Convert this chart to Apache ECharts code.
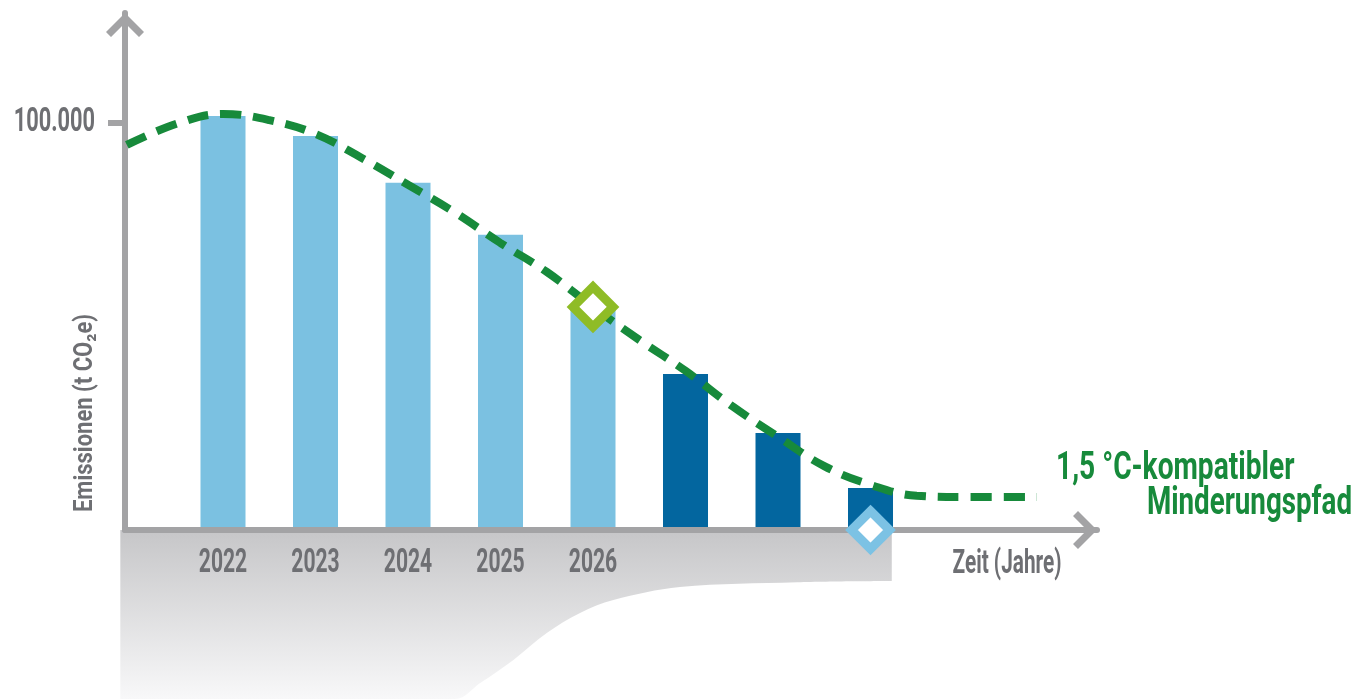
<!DOCTYPE html>
<html><head><meta charset="utf-8">
<script src="https://cdn.jsdelivr.net/npm/echarts@6/dist/echarts.min.js"></script>
<style>html,body{margin:0;padding:0;background:#fff}#c{width:1357px;height:699px}</style>
</head><body><div id="c"></div>
<script>
// ---- data ----
const years = [2022, 2023, 2024, 2025, 2026];
const plannedYears = [2027, 2028, 2029];
const actualEmissions = [101700, 96800, 85300, 72500, 54800];
const plannedEmissions = [38300, 23800, 10300];
const pathYears = [2020.96, 2021.5, 2022, 2022.5, 2023, 2023.5, 2024, 2024.5, 2025, 2025.5, 2026, 2026.5, 2027, 2027.5, 2028, 2028.5, 2029, 2029.5, 2030, 2030.8];
const pathValues = [94600, 99800, 102200, 100700, 97300, 91400, 84800, 78100, 70500, 63400, 54800, 46700, 39100, 30500, 22900, 15700, 11100, 8400, 8100, 8100];
const yTicks = [100000];
const currentMarker = [2026, 54800];
const targetMarker = [2029, 0];
const shadowYears = [2020.89, 2024.51, 2024.78, 2025.14, 2025.5, 2025.86, 2026.22, 2026.94, 2028.21, 2029.23];
const shadowValues = [-41500, -41500, -37600, -31900, -25300, -20400, -17200, -14000, -12800, -12500];

// ---- styling ----
const GRAY = '#a3a3a5';
const TEXT = '#6e6f73';
const GREEN = '#178a3b';
const FONT = "Roboto, 'Noto Sans', sans-serif";
const ARROW = 'path://M19 0L38 19L33 24L19 10L5 24L0 19Z';
const X_MIN = 2020.9405, X_MAX = 2031.4486;

const zip = (a, b) => a.map((v, i) => [v, b[i]]);
const deFmt = v => String(v).replace(/\B(?=(\d{3})+(?!\d))/g, '.');

const chart = echarts.init(document.getElementById('c'), null, {renderer: 'canvas'});
chart.setOption({
  animation: false,
  backgroundColor: '#fff',
  grid: [
    {left: 125, right: 260, top: 13, bottom: 169, outerBoundsMode: 'none', containLabel: false},
    {left: 120, right: 260, top: 530, bottom: 0, outerBoundsMode: 'none', containLabel: false}
  ],
  xAxis: [{
    type: 'value', gridIndex: 0, min: X_MIN, max: X_MAX, z: 3,
    axisLine: {onZero: false, lineStyle: {color: GRAY, width: 6},
      symbol: ['none', ARROW], symbolSize: [38, 24], symbolOffset: [0, -12]},
    axisTick: {show: false},
    splitLine: {show: false},
    axisLabel: {show: false}
  }, {
    type: 'value', gridIndex: 1, min: 2020.8865, max: X_MAX, show: false
  }],
  yAxis: [{
    type: 'value', gridIndex: 0, min: 0, max: 127000, z: 3,
    axisLine: {show: true, lineStyle: {color: GRAY, width: 6},
      symbol: ['none', ARROW], symbolSize: [38, 24], symbolOffset: [0, -12]},
    axisTick: {show: true, customValues: yTicks, length: 17, lineStyle: {color: GRAY, width: 6}},
    splitLine: {show: false},
    axisLabel: {show: false}
  }, {
    type: 'value', gridIndex: 1, min: -41500, max: 0, show: false
  }],
  series: [{
    type: 'line', xAxisIndex: 1, yAxisIndex: 1, z: 1, silent: true,
    data: zip(shadowYears, shadowValues), smooth: 0.35, symbol: 'none',
    lineStyle: {width: 0},
    areaStyle: {origin: 'end', opacity: 1,
      color: new echarts.graphic.LinearGradient(0, 0, 0, 1, [
        {offset: 0, color: '#c6c6c8'}, {offset: 1, color: '#f8f8f9'}])}
  }, {
    type: 'bar', name: 'Ist', data: zip(years, actualEmissions), barWidth: 45, z: 2,
    itemStyle: {color: '#7bc1e1'}
  }, {
    type: 'bar', name: 'Plan', data: zip(plannedYears, plannedEmissions), barWidth: 45, barGap: '-100%', z: 2,
    itemStyle: {color: '#03669f'}
  }, {
    type: 'line', name: '1,5 °C-Pfad', data: zip(pathYears, pathValues), smooth: 0.4, symbol: 'none', z: 4,
    lineStyle: {color: GREEN, width: 8, type: [21, 12], cap: 'butt'}
  }, {
    type: 'scatter', z: 5, symbol: 'diamond', silent: true,
    data: [
      {value: currentMarker, symbolSize: 40, itemStyle: {color: '#fff', opacity: 1, borderColor: '#8fbc26', borderWidth: 9}},
      {value: targetMarker, symbolSize: 38, itemStyle: {color: '#fff', opacity: 1, borderColor: '#7cc2e4', borderWidth: 9}}
    ]
  }, {
    // year labels under the x axis (condensed via scaleX)
    type: 'custom', z: 6, clip: false, silent: true,
    data: years.map(y => [y]),
    encode: {x: 0},
    renderItem: (params, api) => {
      const p = api.coord([api.value(0), 0]);
      return {type: 'text', x: p[0], y: p[1] + 34, scaleX: 0.64,
        style: {text: String(api.value(0)), fill: TEXT, font: 'bold 33px ' + FONT, align: 'center', verticalAlign: 'middle'}};
    }
  }, {
    // y tick label
    type: 'custom', z: 6, clip: false, silent: true,
    data: yTicks.map(v => [X_MIN, v]),
    encode: {x: 0, y: 1},
    renderItem: (params, api) => {
      const p = api.coord([api.value(0), api.value(1)]);
      return {type: 'text', x: p[0] - 30, y: p[1], scaleX: 0.66,
        style: {text: deFmt(api.value(1)), fill: TEXT, font: 'bold 33px ' + FONT, align: 'right', verticalAlign: 'middle'}};
    }
  }],
  graphic: [
    {type: 'text', x: 86, y: 413, rotation: Math.PI / 2, scaleX: 0.88,
      style: {text: 'Emissionen (t CO₂e)', fill: TEXT, font: "bold 25px " + FONT, align: 'center', verticalAlign: 'middle'}},
    {type: 'text', x: 1007, y: 565, scaleX: 0.63,
      style: {text: 'Zeit (Jahre)', fill: TEXT, font: "bold 33px " + FONT, align: 'center', verticalAlign: 'middle'}},
    {type: 'text', x: 1056, y: 469, scaleX: 0.74,
      style: {text: '1,5 °C-kompatibler', fill: GREEN, font: "bold 38px " + FONT, align: 'left', verticalAlign: 'middle'}},
    {type: 'text', x: 1352, y: 504, scaleX: 0.73,
      style: {text: 'Minderungspfad', fill: GREEN, font: "bold 38px " + FONT, align: 'right', verticalAlign: 'middle'}}
  ]
});
</script></body></html>
